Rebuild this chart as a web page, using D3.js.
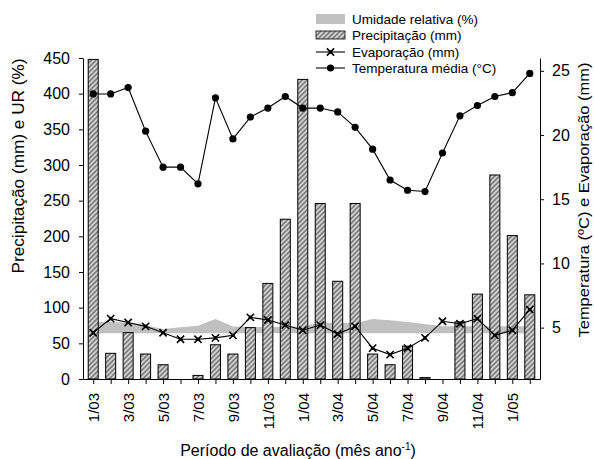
<!DOCTYPE html>
<html>
<head>
<meta charset="utf-8">
<script src="https://cdn.jsdelivr.net/npm/d3@7"></script>
<style>
  html, body { margin: 0; padding: 0; background: #fff; }
  svg { display: block; font-family: "Liberation Sans", Arial, sans-serif; }
</style>
</head>
<body>
<svg id="chart" width="594" height="459"></svg>
<script>
// ---------- data ----------
const months = ["1/03","2/03","3/03","4/03","5/03","6/03","7/03","8/03","9/03","10/03","11/03","12/03",
                "1/04","2/04","3/04","4/04","5/04","6/04","7/04","8/04","9/04","10/04","11/04","12/04",
                "1/05","2/05"];
const tickLabels = ["1/03","3/03","5/03","7/03","9/03","11/03","1/04","3/04","5/04","7/04","9/04","11/04","1/05"];
const precipitation = [448,36,65,35,20,0,5,48,35,72,134,224,420,246,137,246,35,20,46,2,0,80,119,286,201,118];
const humidity = [80,80,79,75.5,70,72.5,74.5,84,73.5,73,73,73,74,79,79,78,84,82.5,80,77,74,74,74,74,74,74];
const humidityBase = 64;
const evaporation = [4.6,5.7,5.4,5.1,4.6,4.1,4.1,4.2,4.4,5.8,5.6,5.2,4.8,5.2,4.5,5.1,3.4,2.9,3.4,4.2,5.5,5.3,5.7,4.4,4.8,6.4];
const temperature = [23.2,23.2,23.7,20.3,17.5,17.5,16.2,22.9,19.7,21.4,22.1,23.0,22.1,22.1,21.8,20.6,18.9,16.5,15.7,15.6,18.6,21.5,22.3,23.0,23.3,24.8];
const leftTicks = [0,50,100,150,200,250,300,350,400,450];
const rightTicks = [5,10,15,20,25];
const legendItems = ["Umidade relativa (%)","Precipitação (mm)","Evaporação (mm)","Temperatura média (°C)"];

// ---------- layout ----------
const svg = d3.select("#chart");
const L = 83, R = 540, T = 58, B = 379;
const x = d3.scalePoint().domain(months).range([L, R]).padding(0.585);
const yL = d3.scaleLinear().domain([0, 450]).range([B, T]);
const yR = d3.scaleLinear().domain([1, 26]).range([B, T]);
const barW = 10;

// hatch pattern
const defs = svg.append("defs");
const pat = defs.append("pattern").attr("id","hatch").attr("patternUnits","userSpaceOnUse")
  .attr("width",3.4).attr("height",10).attr("patternTransform","rotate(45)");
pat.append("rect").attr("width",3.4).attr("height",10).attr("fill","#d2d2d2");
pat.append("line").attr("x1",1.7).attr("x2",1.7).attr("y1",0).attr("y2",10)
  .attr("stroke","#333").attr("stroke-width",0.9);

// humidity area
const area = d3.area().x((d,i)=>x(months[i])).y0(yL(humidityBase)).y1(d=>yL(d));
svg.append("path").datum(humidity).attr("d", area).attr("fill","#c0c0c0");

// bars
svg.append("g").selectAll("rect")
  .data(precipitation.map((v,i)=>({v, m: months[i]})).filter(d=>d.v>0))
  .join("rect")
  .attr("x", d=>x(d.m)-barW/2).attr("width", barW)
  .attr("y", d=>yL(d.v)).attr("height", d=>B - yL(d.v))
  .attr("fill","url(#hatch)").attr("stroke","#000").attr("stroke-width",1);

// evaporation line
const lineR = d3.line().x((d,i)=>x(months[i])).y(d=>yR(d));
svg.append("path").datum(evaporation).attr("d", lineR).attr("fill","none")
  .attr("stroke","#000").attr("stroke-width",1.1);
const xSym = d3.symbol().type(d3.symbolX).size(36);
const evapG = svg.append("g").selectAll("g").data(evaporation).join("g")
  .attr("transform",(d,i)=>`translate(${x(months[i])},${yR(d)})`);
evapG.append("path").attr("d", xSym).attr("fill","none").attr("stroke","#000").attr("stroke-width",1.6);
evapG.append("circle").attr("r",1.8).attr("fill","#000");

// temperature line
svg.append("path").datum(temperature).attr("d", lineR).attr("fill","none")
  .attr("stroke","#000").attr("stroke-width",1.1);
svg.append("g").selectAll("circle").data(temperature).join("circle")
  .attr("cx",(d,i)=>x(months[i])).attr("cy",d=>yR(d)).attr("r",3.6).attr("fill","#000");

// axes
const fs = "16px";
const gx = svg.append("g").attr("transform",`translate(0,${B})`)
  .call(d3.axisBottom(x).tickSize(5).tickSizeOuter(0).tickFormat(d => tickLabels.includes(d) ? d : ""));
gx.selectAll("text").attr("transform","rotate(-90)").attr("x",-14).attr("y",0).attr("dy","0.35em")
  .style("text-anchor","end").style("font-size","15px").attr("fill","#000");

const gl = svg.append("g").attr("transform",`translate(${L},0)`)
  .call(d3.axisLeft(yL).tickValues(leftTicks).tickSize(4).tickSizeOuter(0).tickPadding(9));
gl.selectAll("text").style("font-size",fs).attr("fill","#000");

const gr = svg.append("g").attr("transform",`translate(${R},0)`)
  .call(d3.axisRight(yR).tickValues(rightTicks).tickSize(4).tickSizeOuter(0).tickPadding(8));
gr.selectAll("text").style("font-size",fs).attr("fill","#000");

svg.selectAll(".domain, .tick line").attr("stroke","#000").attr("stroke-width",1);
svg.selectAll(".tick text").style("font-family",'"Liberation Sans", Arial, sans-serif');

// axis titles
svg.append("text").attr("transform","translate(24,166) rotate(-90)")
  .attr("text-anchor","middle").style("font-size","16px")
  .attr("textLength",215).attr("lengthAdjust","spacingAndGlyphs")
  .text("Precipitação (mm) e UR (%)");
svg.append("text").attr("transform","translate(589,200) rotate(-90)")
  .attr("text-anchor","middle").style("font-size","15px")
  .attr("textLength",275).attr("lengthAdjust","spacingAndGlyphs")
  .text("Temperatura (ºC) e Evaporação (mm)");
const xt = svg.append("text").attr("x",298).attr("y",456).attr("text-anchor","middle").style("font-size","16px");
xt.append("tspan").text("Período de avaliação (mês ano");
xt.append("tspan").attr("dy",-6).style("font-size","10px").text("-1");
xt.append("tspan").attr("dy",6).text(")");

// legend
const lg = svg.append("g").attr("transform","translate(316,0)");
const rowsY = [19, 35, 52, 68];
lg.append("rect").attr("x",0).attr("y",rowsY[0]-5).attr("width",29).attr("height",10).attr("fill","#c0c0c0");
lg.append("rect").attr("x",0).attr("y",rowsY[1]-4).attr("width",29).attr("height",8)
  .attr("fill","url(#hatch)").attr("stroke","#000").attr("stroke-width",0.8);
[2,3].forEach(k=>{
  lg.append("line").attr("x1",0).attr("x2",29).attr("y1",rowsY[k]).attr("y2",rowsY[k])
    .attr("stroke","#000").attr("stroke-width",1.1);
});
lg.append("path").attr("d", xSym).attr("transform",`translate(14.5,${rowsY[2]})`)
  .attr("fill","none").attr("stroke","#000").attr("stroke-width",1.6);
lg.append("circle").attr("cx",14.5).attr("cy",rowsY[2]).attr("r",1.8).attr("fill","#000");
lg.append("circle").attr("cx",14.5).attr("cy",rowsY[3]).attr("r",3.6).attr("fill","#000");
lg.selectAll("text.leg").data(legendItems).join("text").attr("class","leg")
  .attr("x",36).attr("y",(d,i)=>rowsY[i]).attr("dy","0.35em")
  .style("font-size","13.5px").text(d=>d);
</script>
</body>
</html>
